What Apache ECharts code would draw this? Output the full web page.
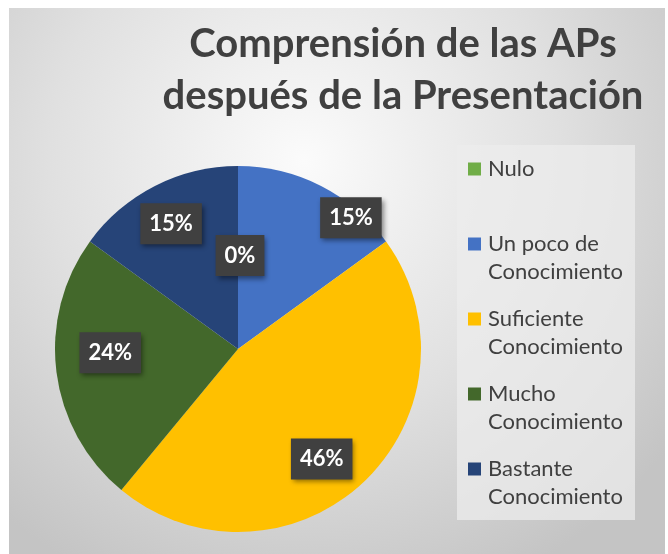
<!DOCTYPE html>
<html>
<head>
<meta charset="utf-8">
<script src="https://cdn.jsdelivr.net/npm/echarts@6/dist/echarts.min.js"></script>
<style>
html,body{margin:0;padding:0;background:#ffffff;width:668px;height:554px;overflow:hidden;}
#c{position:absolute;left:9px;top:8px;width:656px;height:546px;}
</style>
</head>
<body>
<div id="c"></div>
<script>
const titleLines = ['Comprensión de las APs', 'después de la Presentación'];
const categories = ['Nulo', 'Un poco de\nConocimiento', 'Suficiente\nConocimiento', 'Mucho\nConocimiento', 'Bastante\nConocimiento'];
const values = [0, 15, 46, 24, 15];
const colors = ['#70ad47', '#4472c4', '#ffc000', '#43682b', '#264478'];
const labelOffsets = [[2, 1], [70, -47], [19, 41], [-34, -8], [-24, -41]];

const chart = echarts.init(document.getElementById('c'), null, {renderer: 'canvas'});
const data = categories.map((n, i) => ({
  name: n,
  value: values[i],
  itemStyle: {color: colors[i]},
  label: {offset: labelOffsets[i]}
}));

chart.setOption({
  animation: false,
  backgroundColor: {
    type: 'radial', x: 0.45, y: 0.28, r: 0.85,
    colorStops: [{offset: 0, color: '#fbfbfb'}, {offset: 0.55, color: '#e0e0e0'}, {offset: 1, color: '#c4c4c4'}]
  },
  title: {
    text: titleLines.join('\n'),
    left: 394, top: 10, padding: 0,
    textAlign: 'center',
    textStyle: {fontFamily: 'Lato', fontWeight: 'bold', fontSize: 40, lineHeight: 52, color: '#404040'}
  },
  graphic: [{
    type: 'rect', left: 448, top: 137, z: -1,
    shape: {width: 178, height: 375},
    style: {fill: 'rgba(236,236,236,0.75)'}
  }],
  legend: {
    orient: 'vertical',
    left: 459, top: 119, padding: 0,
    itemWidth: 13, itemHeight: 13, itemGap: -9,
    icon: 'rect',
    selectedMode: false,
    formatter: n => ' \n' + (n.indexOf('\n') < 0 ? n + '\n ' : n),
    textStyle: {fontFamily: 'Lato', fontSize: 22, lineHeight: 28, color: '#404040', padding: [0, 0, 0, 2]}
  },
  series: [{
    type: 'pie',
    center: [229, 341],
    radius: [0, 183],
    startAngle: 90,
    clockwise: true,
    data: data,
    emphasis: {disabled: true},
    itemStyle: {borderWidth: 0},
    labelLine: {show: false},
    label: {
      show: true,
      position: 'inside',
      formatter: p => p.value + '%',
      fontFamily: 'Lato', fontWeight: 'bold', fontSize: 22, lineHeight: 22,
      color: '#ffffff',
      backgroundColor: '#404040',
      padding: [10, 9, 9, 9],
      shadowColor: 'rgba(0,0,0,0.45)', shadowBlur: 5, shadowOffsetX: 2, shadowOffsetY: 3
    }
  }]
});
</script>
</body>
</html>
